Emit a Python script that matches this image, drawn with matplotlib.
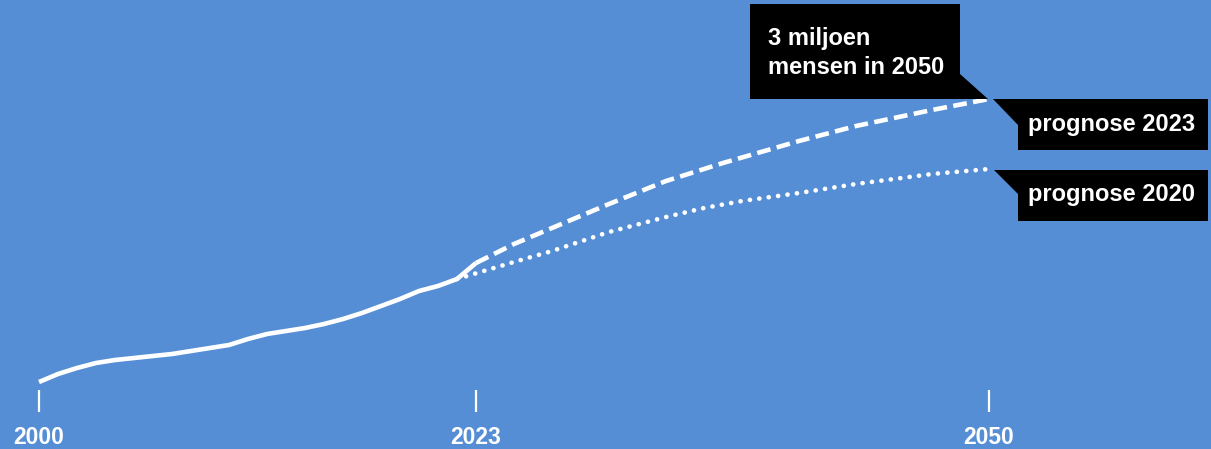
import matplotlib.pyplot as plt
import matplotlib.transforms as mtransforms
from matplotlib.patches import Polygon, Rectangle

# bevolking (miljoen), gemeten
jaren = [2000, 2001, 2002, 2003, 2004, 2005, 2006, 2007, 2008, 2009, 2010,
         2011, 2012, 2013, 2014, 2015, 2016, 2017, 2018, 2019, 2020, 2021,
         2022, 2022.5, 2023]
waarden = [1.585, 1.625, 1.655, 1.68, 1.695, 1.705, 1.715, 1.725, 1.74, 1.755,
           1.77, 1.80, 1.825, 1.84, 1.855, 1.875, 1.90, 1.93, 1.965, 2.00,
           2.04, 2.065, 2.10, 2.14, 2.18]

# prognose 2023
jaren_p23 = [2023, 2025, 2027, 2030, 2033, 2036, 2038, 2040, 2043, 2045, 2047, 2050]
waarden_p23 = [2.18, 2.275, 2.355, 2.475, 2.59, 2.68, 2.735, 2.79, 2.865, 2.905, 2.945, 3.0]

# prognose 2020
jaren_p20 = [2022, 2025, 2027, 2030, 2033, 2035, 2037, 2040, 2043, 2045, 2047, 2050]
waarden_p20 = [2.10, 2.185, 2.24, 2.335, 2.41, 2.455, 2.49, 2.53, 2.575, 2.60, 2.625, 2.65]

tick_jaren = [2000, 2023, 2050]

blauw = '#558ed5'
plt.rcParams['font.family'] = ['Liberation Sans', 'DejaVu Sans']

fig = plt.figure(figsize=(12.11, 4.49), dpi=100, facecolor=blauw)
ax = fig.add_axes([0, 37 / 449, 1, 412 / 449])
ax.set_facecolor(blauw)

ax.plot(jaren, waarden, color='white', lw=3.3, solid_capstyle='butt',
        solid_joinstyle='round')
ax.plot(jaren_p23, waarden_p23, color='white', lw=3.3, linestyle=(0, (3.0, 1.4)))
ax.plot(jaren_p20, waarden_p20, color='white', lw=3.4, linestyle=(0, (0.01, 2.0)),
        dash_capstyle='round')

ax.set_xlim(2000 - 39 / 19, 2000 + 1172 / 19)
ax.set_ylim(1.435, 3.495)

for s in ax.spines.values():
    s.set_visible(False)
ax.set_yticks([])
ax.set_xticks(tick_jaren)
ax.set_xticklabels([str(j) for j in tick_jaren])
ax.tick_params(axis='x', direction='in', length=16, width=1.6, color='white',
               labelcolor='white', labelsize=16.5, pad=10)
for lab in ax.get_xticklabels():
    lab.set_fontweight('bold')


def callout(x, y, box, tail, tekst, tx, ty, ls=1.2):
    # box/tail in pixels relative to the data point (x, y)
    tr = fig.dpi_scale_trans + mtransforms.ScaledTranslation(x, y, ax.transData)
    x0, y0, w, h = [v / 100 for v in box]
    ax.add_patch(Rectangle((x0, y0), w, h, transform=tr, color='black', lw=0, zorder=5))
    ax.add_patch(Polygon([(a / 100, b / 100) for a, b in tail], closed=True,
                         transform=tr, color='black', lw=0, zorder=5))
    ax.text(tx / 100, ty / 100, tekst, transform=tr, color='white', fontsize=17,
            fontweight='bold', va='center', ha='left', linespacing=ls, zorder=6)


callout(jaren_p23[-1], waarden_p23[-1], (29, -51, 190, 51),
        [(4, 0), (29, 0), (29, -26)], 'prognose 2023', 39, -25)
callout(jaren_p23[-1], waarden_p23[-1], (-239, 0, 210, 95),
        [(-29, 25), (-29, 0), (-1, 0)], '3 miljoen\nmensen in 2050', -221, 46, ls=1.35)
callout(jaren_p20[-1], waarden_p20[-1], (29, -52, 190, 51),
        [(5, -1), (29, -1), (29, -25)], 'prognose 2020', 39, -26)

fig.savefig('out.png', dpi=100, facecolor=blauw)
